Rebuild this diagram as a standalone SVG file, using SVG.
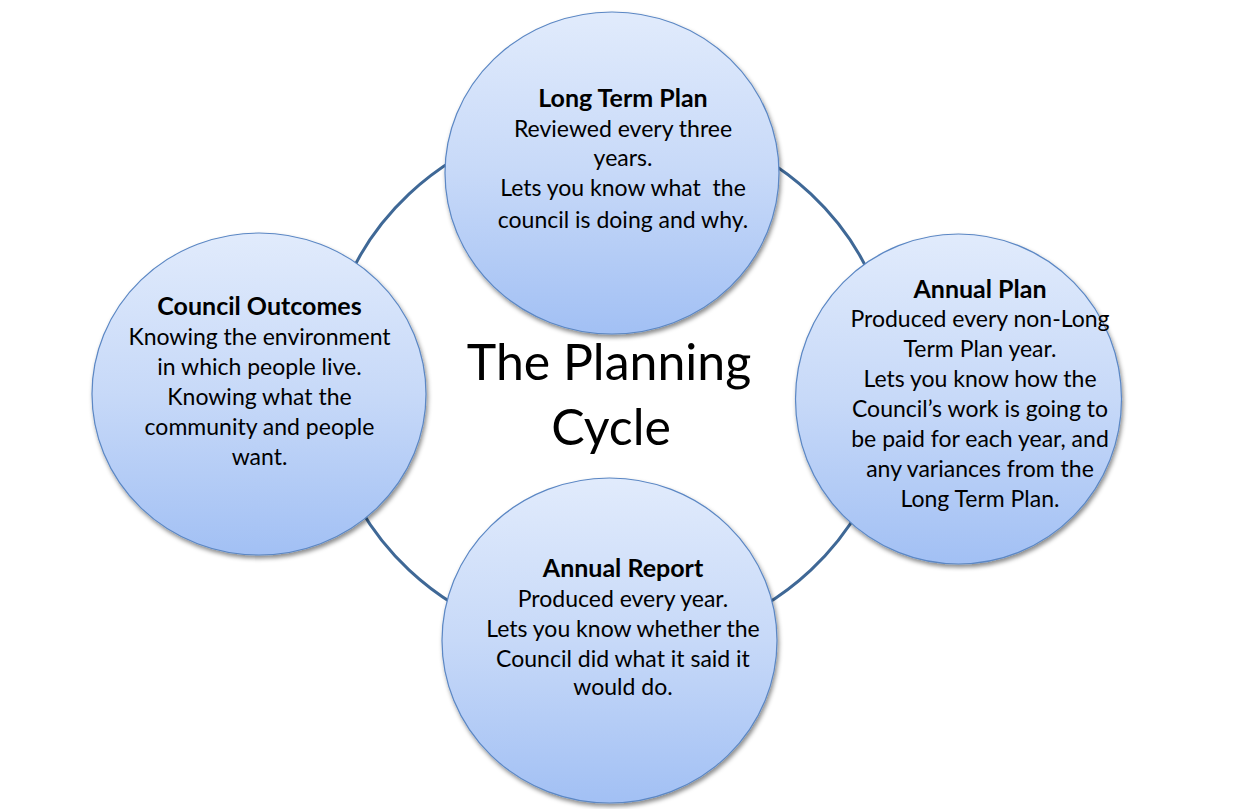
<svg xmlns="http://www.w3.org/2000/svg" width="1251" height="809" viewBox="0 0 1251 809">
  <defs>
    <linearGradient id="fill" x1="0" y1="0" x2="0" y2="1">
      <stop offset="0" stop-color="#e1ebfc"/>
      <stop offset="0.5" stop-color="#c7d9f8"/>
      <stop offset="1" stop-color="#a2c0f4"/>
    </linearGradient>
    <filter id="shadow" x="-10%" y="-10%" width="125%" height="125%">
      <feDropShadow dx="1.5" dy="3" stdDeviation="2.2" flood-color="#000" flood-opacity="0.45"/>
    </filter>
  </defs>
  <style>
    .node { fill: url(#fill); stroke: #5b87c4; stroke-width: 1.2; filter: url(#shadow); }
    .ring { fill: none; stroke: #3f6896; stroke-width: 3; }
    text { font-family: Lato, "Open Sans", "Liberation Sans", sans-serif; fill: #000; text-anchor: middle; }
    .h { font-weight: bold; font-size: 25px; }
    .b { font-size: 23px; }
    .pre { white-space: pre; }
    .title { font-size: 50px; }
  </style>
  <rect width="1251" height="809" fill="#fff"/>
  <g id="connectors">
    <ellipse class="ring" cx="610" cy="382" rx="284" ry="266"/>
  </g>
  <g id="title">
    <text class="title" x="609" y="380">The Planning</text>
    <text class="title" x="611" y="445">Cycle</text>
  </g>
  <g id="long-term-plan">
    <ellipse class="node" cx="612" cy="173" rx="167" ry="161"/>
    <text class="h" x="623" y="107">Long Term Plan</text>
    <text class="b" x="623" y="137">Reviewed every three</text>
    <text class="b" x="623" y="166">years.</text>
    <text class="b pre" x="623" y="196" xml:space="preserve">Lets you know what  the</text>
    <text class="b" x="623" y="228">council is doing and why.</text>
  </g>
  <g id="council-outcomes">
    <ellipse class="node" cx="259" cy="394" rx="167" ry="161"/>
    <text class="h" x="259.5" y="315">Council Outcomes</text>
    <text class="b" x="259.5" y="345">Knowing the environment</text>
    <text class="b" x="259.5" y="375">in which people live.</text>
    <text class="b" x="259.5" y="405">Knowing what the</text>
    <text class="b" x="259.5" y="435">community and people</text>
    <text class="b" x="259.5" y="465">want.</text>
  </g>
  <g id="annual-plan">
    <ellipse class="node" cx="958.5" cy="399" rx="163" ry="165"/>
    <text class="h" x="980" y="298">Annual Plan</text>
    <text class="b" x="980" y="327">Produced every non-Long</text>
    <text class="b" x="980" y="357">Term Plan year.</text>
    <text class="b" x="980" y="387">Lets you know how the</text>
    <text class="b" x="980" y="417">Council’s work is going to</text>
    <text class="b" x="980" y="447">be paid for each year, and</text>
    <text class="b" x="980" y="477">any variances from the</text>
    <text class="b" x="980" y="507">Long Term Plan.</text>
  </g>
  <g id="annual-report">
    <ellipse class="node" cx="609.5" cy="640.5" rx="167.5" ry="162.5"/>
    <text class="h" x="623" y="577">Annual Report</text>
    <text class="b" x="623" y="607">Produced every year.</text>
    <text class="b" x="623" y="637">Lets you know whether the</text>
    <text class="b" x="623" y="667">Council did what it said it</text>
    <text class="b" x="623" y="695">would do.</text>
  </g>
</svg>
